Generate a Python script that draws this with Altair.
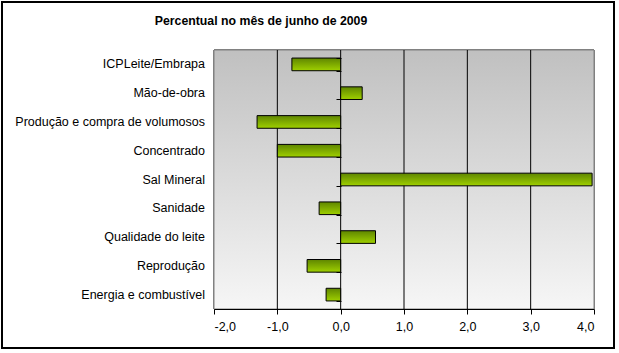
import altair as alt
import pandas as pd

categories = [
    "ICPLeite/Embrapa",
    "Mão-de-obra",
    "Produção e compra de volumosos",
    "Concentrado",
    "Sal Mineral",
    "Sanidade",
    "Qualidade do leite",
    "Reprodução",
    "Energia e combustível",
]
values = [-0.77, 0.34, -1.32, -1.0, 3.97, -0.34, 0.55, -0.53, -0.23]
x_ticks = [-2, -1, 0, 1, 2, 3, 4]
grid_vals = [-1, 0, 1, 2, 3]
title_text = ["Percentual no mês de junho de 2009"]

df = pd.DataFrame({"cat": categories, "val": values})
grid_df = pd.DataFrame({"v": grid_vals})
title_df = pd.DataFrame({"t": title_text})

W, H = 380, 259
FONT = "Liberation Sans"

xscale = alt.Scale(domain=[-2, 4], nice=False, zero=False)
yscale = alt.Scale(domain=categories, paddingInner=0.56, paddingOuter=0.28)

x_axis = alt.Axis(
    values=x_ticks, title=None, grid=False, zindex=1,
    labelExpr="replace(replace(format(datum.value, '.1f'), '.', ','), '\u2212', '-')",
    domainColor="black", tickColor="black", tickSize=5, labelPadding=6,
    labelFont=FONT, labelFontSize=12.5, labelColor="black",
)
y_axis = alt.Axis(
    title=None, labels=False, domain=False, ticks=True, tickBand="extent",
    tickColor="black", tickSize=5, tickWidth=1, offset=-127, grid=False,
    zindex=1,
)

bg = alt.Chart(df).mark_rect(
    color=alt.Gradient(
        gradient="linear",
        stops=[alt.GradientStop(color="#c0c0c0", offset=0),
               alt.GradientStop(color="#f6f6f6", offset=1)],
        x1=0, y1=0, x2=0, y2=1,
    ),
    stroke="#808080", strokeWidth=1,
).encode(x=alt.value(0), x2=alt.value(W), y=alt.value(0), y2=alt.value(H))

frame = alt.Chart(df).mark_rect(
    fillOpacity=0, stroke="black", strokeWidth=1.5, clip=False,
).encode(x=alt.value(-212), x2=alt.value(400), y=alt.value(-48), y2=alt.value(298))

title = alt.Chart(title_df).mark_text(
    align="center", baseline="alphabetic", font=FONT, fontSize=12.3,
    fontWeight="bold", color="black",
).encode(x=alt.value(47), y=alt.value(-25), text="t:N")

grid = alt.Chart(grid_df).mark_rule(color="black", strokeWidth=1).encode(
    x=alt.X("v:Q", scale=xscale, axis=x_axis)
)

bars = alt.Chart(df).mark_bar(
    color=alt.Gradient(
        gradient="linear",
        stops=[alt.GradientStop(color="#5f8600", offset=0),
               alt.GradientStop(color="#9fd000", offset=1)],
        x1=0, y1=0, x2=0, y2=1,
    ),
    stroke="black", strokeWidth=1,
).encode(
    y=alt.Y("cat:N", sort=categories, scale=yscale, axis=y_axis),
    x=alt.X("val:Q", scale=xscale, axis=x_axis),
    x2=alt.datum(0),
)

labels = alt.Chart(df).mark_text(
    align="right", baseline="middle", font=FONT, fontSize=12.5, color="black",
).encode(
    y=alt.Y("cat:N", sort=categories, scale=yscale, axis=y_axis),
    x=alt.value(-9),
    text="cat:N",
)

chart = alt.layer(bg, frame, title, grid, bars, labels).properties(
    width=W, height=H,
    autosize=alt.AutoSizeParams(type="none"),
    padding={"left": 214, "top": 50, "right": 25, "bottom": 44},
    background="white",
).configure_view(stroke=None)

chart.save("out.html", embed_options={"renderer": "svg", "actions": False})
